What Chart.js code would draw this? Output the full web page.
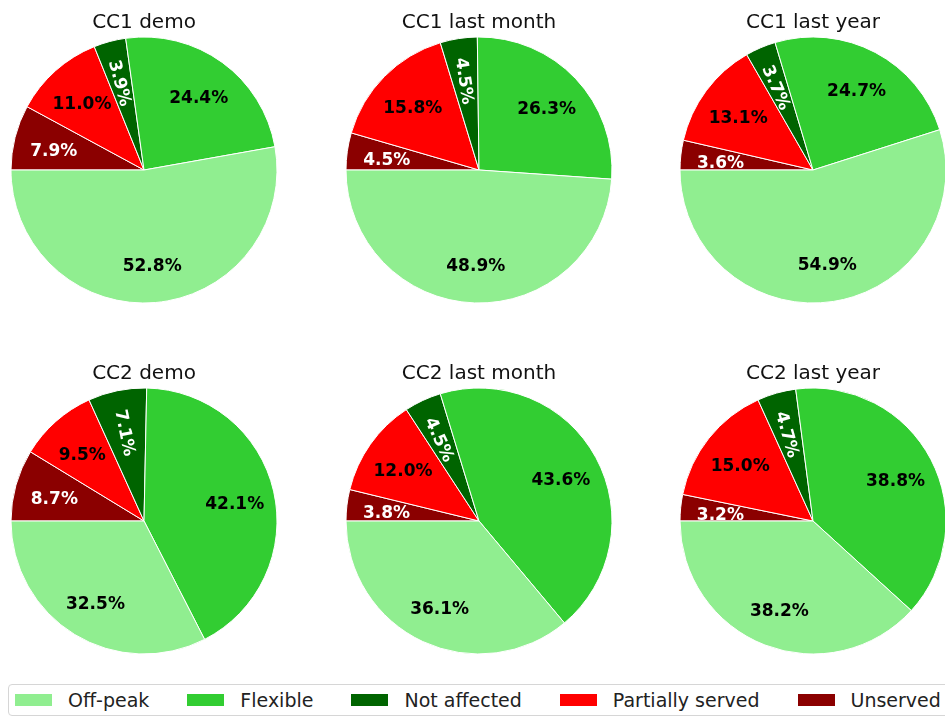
<!DOCTYPE html>
<html lang="en">
<head>
    <meta charset="UTF-8">
    <title>Load categories per period</title>
    <script src="https://cdn.jsdelivr.net/npm/chart.js"></script>
    <style>
        body {
            margin: 0;
            width: 945px;
            height: 718px;
            overflow: hidden;
            background: #fff;
            position: relative;
            font-family: "DejaVu Sans", sans-serif;
        }
        .pie {
            position: absolute;
        }
        .legend {
            position: absolute;
            left: 8px;
            top: 684px;
            width: 960px;
            height: 32px;
            box-sizing: border-box;
            border: 1px solid #d6d6d6;
            border-radius: 4px;
            display: flex;
            align-items: center;
            padding-left: 6px;
        }
        .legend-item {
            display: flex;
            align-items: center;
            flex-shrink: 0;
            white-space: nowrap;
            margin-right: 38px;
            font-size: 19px;
            color: #222;
        }
        .legend-item span.box {
            width: 37px;
            height: 12px;
            margin-right: 16px;
        }
    </style>
</head>
<body>

    <div id="charts"></div>
    <div class="legend" id="legend"></div>

    <script>
        // categories and colours (matplotlib order, counter-clockwise from 9 o'clock)
        const categories = ["Off-peak", "Flexible", "Not affected", "Partially served", "Unserved"];
        const colors = ["#90ee90", "#32cd32", "#006400", "#ff0000", "#8b0000"];
        const labelColors = ["#000", "#000", "#fff", "#000", "#fff"];

        const titles = ["CC1 demo", "CC1 last month", "CC1 last year", "CC2 demo", "CC2 last month", "CC2 last year"];

        // percentages per pie
        const cc1Demo = [52.8, 24.4, 3.9, 11.0, 7.9];
        const cc1LastMonth = [48.9, 26.3, 4.5, 15.8, 4.5];
        const cc1LastYear = [54.9, 24.7, 3.7, 13.1, 3.6];
        const cc2Demo = [32.5, 42.1, 7.1, 9.5, 8.7];
        const cc2LastMonth = [36.1, 43.6, 4.5, 12.0, 3.8];
        const cc2LastYear = [38.2, 38.8, 4.7, 15.0, 3.2];

        const series = [cc1Demo, cc1LastMonth, cc1LastYear, cc2Demo, cc2LastMonth, cc2LastYear];

        // pie centres on the page
        const colX = [144, 479, 813];
        const rowY = [170, 521];

        // draws the percentage labels and the pie title
        const pieText = {
            id: "pieText",
            afterDatasetsDraw(chart, args, opts) {
                const ctx = chart.ctx;
                const arcs = chart.getDatasetMeta(0).data;
                const ds = chart.data.datasets[0];
                ctx.save();
                ctx.font = 'bold 17px "DejaVu Sans"';
                ctx.textAlign = "center";
                ctx.textBaseline = "middle";
                arcs.forEach((arc, i) => {
                    const p = arc.getProps(["x", "y", "startAngle", "endAngle", "outerRadius"], true);
                    const mid = (p.startAngle + p.endAngle) / 2;
                    const px = p.x + Math.cos(mid) * p.outerRadius * 0.7;
                    const py = p.y + Math.sin(mid) * p.outerRadius * 0.7 + 3;
                    ctx.save();
                    ctx.translate(px, py);
                    if (ds.rotateLabel[i]) ctx.rotate(mid + Math.PI);
                    ctx.fillStyle = ds.textColor[i];
                    ctx.fillText(ds.data[i].toFixed(1) + "%", 0, 1);
                    ctx.restore();
                });
                // title above the pie
                const c = arcs[0];
                ctx.font = '20px "DejaVu Sans"';
                ctx.fillStyle = "#111";
                ctx.textBaseline = "alphabetic";
                ctx.fillText(opts.text, c.x, c.y - 142);
                ctx.restore();
            }
        };

        const holder = document.getElementById("charts");

        series.forEach((values, k) => {
            const cx = colX[k % 3];
            const cy = rowY[Math.floor(k / 3)];
            const canvas = document.createElement("canvas");
            canvas.className = "pie";
            canvas.width = 300;
            canvas.height = 320;
            canvas.style.left = (cx - 150) + "px";
            canvas.style.top = (cy - 170) + "px";
            holder.appendChild(canvas);

            // Chart.js goes clockwise, so reverse the order and start at 9 o'clock
            const rev = (a) => a.slice().reverse();
            new Chart(canvas, {
                type: "pie",
                data: {
                    labels: rev(categories),
                    datasets: [{
                        data: rev(values),
                        backgroundColor: rev(colors),
                        textColor: rev(labelColors),
                        rotateLabel: rev(categories.map(c => c === "Not affected")),
                        borderColor: "#ffffff",
                        borderWidth: 1
                    }]
                },
                options: {
                    responsive: false,
                    animation: false,
                    events: [],
                    rotation: -90,
                    radius: 133,
                    layout: { padding: { top: 20 } },
                    plugins: {
                        legend: { display: false },
                        tooltip: { enabled: false },
                        pieText: { text: titles[k] }
                    }
                },
                plugins: [pieText]
            });
        });

        // shared legend
        const legend = document.getElementById("legend");
        categories.forEach((name, i) => {
            const item = document.createElement("div");
            item.className = "legend-item";
            const box = document.createElement("span");
            box.className = "box";
            box.style.background = colors[i];
            item.appendChild(box);
            item.appendChild(document.createTextNode(name));
            legend.appendChild(item);
        });
    </script>

</body>
</html>
